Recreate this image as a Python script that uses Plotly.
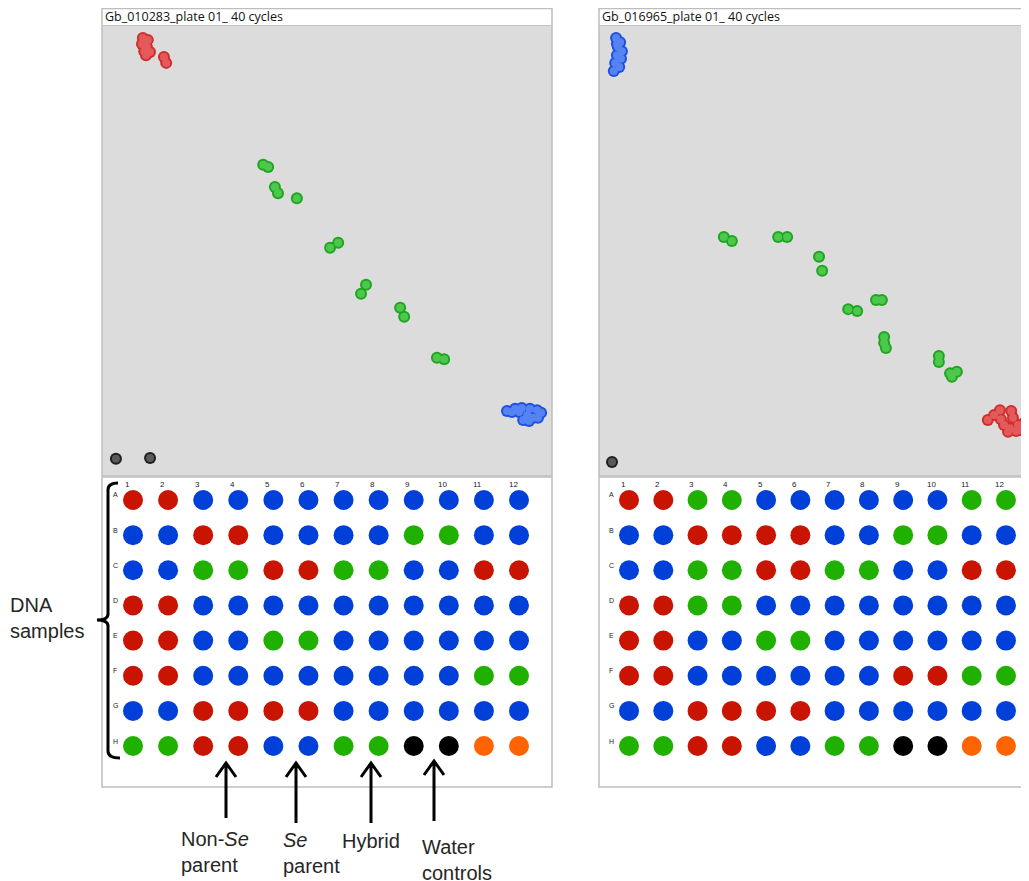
import plotly.graph_objects as go

# The page adds an 8 px body margin; the figure is sized to fit the window.
OFF = 8
W, H = 1021, 873

# ---------------- scatter data (normalised allele signals, 0-1) ----------------
# Left assay: Gb_010283
L_red_x = [0.091, 0.102, 0.089, 0.100, 0.094, 0.107, 0.098, 0.138, 0.143]
L_red_y = [0.971, 0.967, 0.958, 0.951, 0.942, 0.940, 0.933, 0.929, 0.916]
L_green_x = [0.359, 0.370, 0.385, 0.392, 0.434, 0.508, 0.526, 0.588, 0.577, 0.664, 0.673, 0.746, 0.762]
L_green_y = [0.690, 0.685, 0.641, 0.627, 0.616, 0.506, 0.517, 0.424, 0.404, 0.373, 0.353, 0.262, 0.259]
L_blue_x = [0.902, 0.920, 0.935, 0.953, 0.969, 0.978, 0.947, 0.960, 0.938, 0.971, 0.929, 0.951, 0.913]
L_blue_y = [0.144, 0.149, 0.151, 0.149, 0.146, 0.140, 0.135, 0.129, 0.124, 0.129, 0.142, 0.122, 0.142]
L_ntc_x = [0.031, 0.107]
L_ntc_y = [0.038, 0.040]

# Right assay: Gb_016965
R_blue_x = [0.038, 0.047, 0.042, 0.051, 0.040, 0.049, 0.036, 0.045, 0.033, 0.040]
R_blue_y = [0.971, 0.962, 0.951, 0.942, 0.933, 0.925, 0.916, 0.907, 0.898, 0.958]
R_green_x = [0.278, 0.296, 0.399, 0.419, 0.490, 0.497, 0.555, 0.575, 0.617, 0.630,
             0.635, 0.635, 0.639, 0.757, 0.757, 0.782, 0.797, 0.786]
R_green_y = [0.530, 0.521, 0.530, 0.530, 0.486, 0.455, 0.370, 0.366, 0.390, 0.390,
             0.308, 0.295, 0.284, 0.266, 0.253, 0.228, 0.231, 0.220]
R_red_x = [0.866, 0.880, 0.893, 0.918, 0.922, 0.902, 0.915, 0.933, 0.947, 0.929, 0.911, 0.895, 0.938]
R_red_y = [0.124, 0.135, 0.146, 0.144, 0.129, 0.113, 0.106, 0.113, 0.118, 0.100, 0.098, 0.126, 0.102]
R_ntc_x = [0.029]
R_ntc_y = [0.031]

titles = ["Gb_010283_plate 01_ 40 cycles", "Gb_016965_plate 01_ 40 cycles"]

# ---------------- plate calls ----------------
col_labels = [str(i) for i in range(1, 13)]
row_labels = ["A", "B", "C", "D", "E", "F", "G", "H"]
left_plate = [
    "RRBBBBBBBBBB",
    "BBRRBBBBGGBB",
    "BBGGRRGGBBRR",
    "RRBBBBBBBBBB",
    "RRBBGGBBBBBB",
    "RRBBBBBBBBGG",
    "BBRRRRBBBBBB",
    "GGRRBBGGKKOO",
]
right_plate = [
    "RRGGBBBBBBGG",
    "BBRRRRBBGGBB",
    "BBGGRRGGBBRR",
    "RRGGBBBBBBBB",
    "RRBBGGBBBBBB",
    "RRBBBBBBRRGG",
    "BBRRRRBBBBBB",
    "GGRRBBGGKKOO",
]
well_colors = {"R": "#c81400", "B": "#0040d8", "G": "#20b000", "K": "#000000", "O": "#ff6400"}

# ---------------- helpers (window pixel -> paper fraction) ----------------
def px(x):
    return (x - OFF) / W

def py(y):
    return 1 - (y - OFF) / H

fig = go.Figure()

cluster_styles = {
    "red": ("#cf2e2e", "#e45a5a"),
    "green": ("#1fa51f", "#4cc84c"),
    "blue": ("#1e4fe0", "#5584f2"),
    "ntc": ("#1e1e1e", "#5a5a5a"),
}

def add_cluster(xs, ys, style, xa, ya):
    edge, fill = cluster_styles[style]
    fig.add_trace(go.Scatter(x=xs, y=ys, mode="markers", xaxis=xa, yaxis=ya,
                             marker=dict(size=12, color=edge, line=dict(width=0)),
                             hoverinfo="skip", showlegend=False))
    fig.add_trace(go.Scatter(x=xs, y=ys, mode="markers", xaxis=xa, yaxis=ya,
                             marker=dict(size=8, color=fill, line=dict(width=0)),
                             hoverinfo="skip", showlegend=False))

add_cluster(L_red_x, L_red_y, "red", "x", "y")
add_cluster(L_green_x, L_green_y, "green", "x", "y")
add_cluster(L_blue_x, L_blue_y, "blue", "x", "y")
add_cluster(L_ntc_x, L_ntc_y, "ntc", "x", "y")
add_cluster(R_blue_x, R_blue_y, "blue", "x2", "y2")
add_cluster(R_green_x, R_green_y, "green", "x2", "y2")
add_cluster(R_red_x, R_red_y, "red", "x2", "y2")
add_cluster(R_ntc_x, R_ntc_y, "ntc", "x2", "y2")

def add_plate(calls, xa, ya):
    xs, ys, cs = [], [], []
    for r, row in enumerate(calls):
        for c, code in enumerate(row):
            xs.append(c + 1)
            ys.append(r + 1)
            cs.append(well_colors[code])
    fig.add_trace(go.Scatter(x=xs, y=ys, mode="markers", xaxis=xa, yaxis=ya,
                             marker=dict(size=20, color=cs, line=dict(width=0)),
                             hoverinfo="skip", showlegend=False))

add_plate(left_plate, "x3", "y3")
add_plate(right_plate, "x4", "y4")

hidden = dict(visible=False, fixedrange=True)
fig.update_layout(
    width=W, height=H,
    margin=dict(l=0, r=0, t=0, b=0),
    paper_bgcolor="white", plot_bgcolor="rgba(0,0,0,0)",
    showlegend=False,
    xaxis=dict(domain=[px(102), px(551)], range=[0, 1], anchor="y", **hidden),
    yaxis=dict(domain=[py(476), py(25)], range=[0, 1], anchor="x", **hidden),
    xaxis2=dict(domain=[px(599), 1], range=[0, (1029 - 599) / 449], anchor="y2", **hidden),
    yaxis2=dict(domain=[py(476), py(25)], range=[0, 1], anchor="x2", **hidden),
    xaxis3=dict(domain=[px(115.45), px(536.55)], range=[0.5, 12.5], anchor="y3", **hidden),
    yaxis3=dict(domain=[py(763.6), py(482.4)], range=[8.5, 0.5], anchor="x3", **hidden),
    xaxis4=dict(domain=[px(611.9), px(1023.1)], range=[0.5, 12.5], anchor="y4", **hidden),
    yaxis4=dict(domain=[py(763.6), py(482.4)], range=[8.5, 0.5], anchor="x4", **hidden),
)

shapes = []
for x0, x1 in [(102, 552), (599, 1045)]:
    shapes.append(dict(type="rect", xref="paper", yref="paper", x0=px(x0), x1=px(x1),
                       y0=py(476), y1=py(25), fillcolor="#dcdcdc", line=dict(width=0), layer="below"))
    shapes.append(dict(type="rect", xref="paper", yref="paper", x0=px(x0), x1=px(x1),
                       y0=py(787), y1=py(8.5), fillcolor="rgba(0,0,0,0)",
                       line=dict(color="#bdbdbd", width=1.5), layer="above"))
    shapes.append(dict(type="line", xref="paper", yref="paper", x0=px(x0), x1=px(x1),
                       y0=py(25.5), y1=py(25.5), line=dict(color="#c4c4c4", width=1)))
    shapes.append(dict(type="line", xref="paper", yref="paper", x0=px(x0), x1=px(x1),
                       y0=py(476.5), y1=py(476.5), line=dict(color="#c2c2c2", width=2.5)))

# bracket for DNA samples
bracket = (f"M {px(118)},{py(483)} Q {px(108)},{py(483)} {px(108)},{py(490)} "
           f"L {px(108)},{py(614)} Q {px(108)},{py(620)} {px(97)},{py(620)} "
           f"Q {px(108)},{py(620)} {px(108)},{py(626)} "
           f"L {px(108)},{py(751)} Q {px(108)},{py(758)} {px(120)},{py(758)}")
shapes.append(dict(type="path", xref="paper", yref="paper", path=bracket,
                   line=dict(color="black", width=3)))

# arrows
for ax, tip, tail in [(226, 763, 818), (296, 763, 823), (371, 763, 823), (434, 761, 821)]:
    p = (f"M {px(ax)},{py(tail)} L {px(ax)},{py(tip + 1)} "
         f"M {px(ax - 10)},{py(tip + 14)} L {px(ax)},{py(tip)} L {px(ax + 10)},{py(tip + 14)}")
    shapes.append(dict(type="path", xref="paper", yref="paper", path=p,
                       line=dict(color="black", width=3)))

annotations = []
for x0, t in [(103, titles[0]), (600, titles[1])]:
    annotations.append(dict(xref="paper", yref="paper", x=px(x0), y=py(17), text=t,
                            showarrow=False, xanchor="left", yanchor="middle",
                            font=dict(family="Open Sans", size=12.5, color="#111111")))

for xa, ya in [("x3", "y3"), ("x4", "y4")]:
    for c, lab in enumerate(col_labels):
        annotations.append(dict(xref=xa, yref=ya, x=c + 1, y=1, text=lab, showarrow=False,
                                xshift=-6, yshift=15,
                                font=dict(family="Liberation Sans", size=8, color="#222222")))
    for r, lab in enumerate(row_labels):
        annotations.append(dict(xref=xa, yref=ya, x=1, y=r + 1, text=lab, showarrow=False,
                                xshift=-18, yshift=5,
                                font=dict(family="Liberation Sans", size=7, color="#222222")))

label_font = dict(family="Liberation Sans", size=20, color="#262626")
for x0, yc, txt in [(8, 618, "DNA<br>samples"),
                    (179, 852, "Non-<i>Se</i><br>parent"),
                    (281, 853, "<i>Se</i><br>parent"),
                    (340, 841, "Hybrid"),
                    (420, 860, "Water<br>controls")]:
    annotations.append(dict(xref="paper", yref="paper", x=px(x0), y=py(yc), text=txt,
                            showarrow=False, xanchor="left", yanchor="middle", align="left",
                            font=label_font))

fig.update_layout(shapes=shapes, annotations=annotations)
fig.write_html("out.html")
